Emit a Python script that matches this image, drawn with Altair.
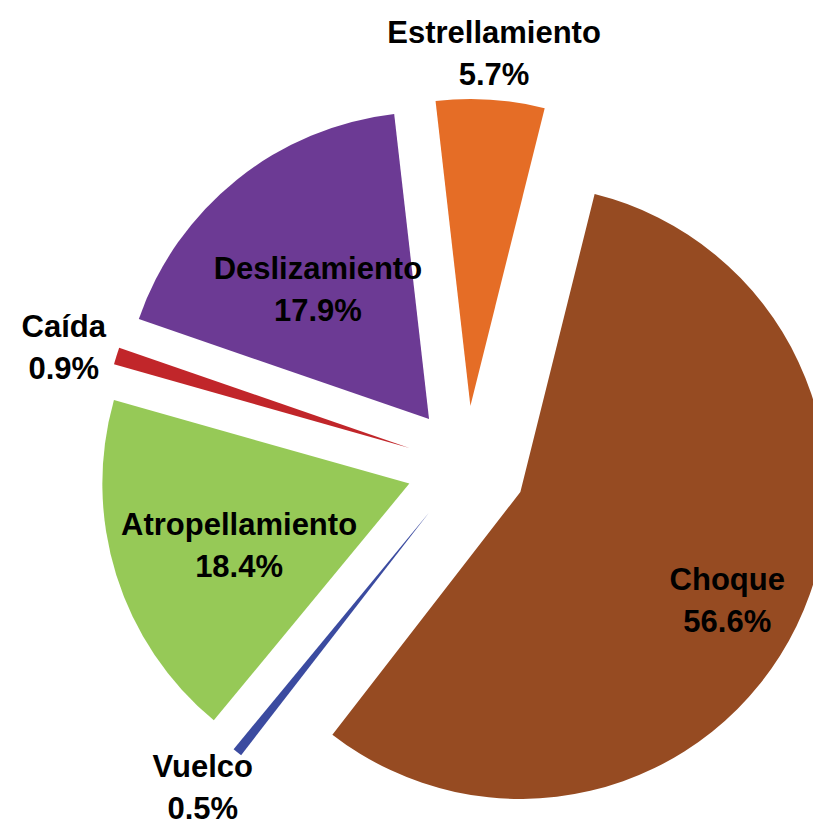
import math
import altair as alt
import pandas as pd

# ---- data ----
categories = ["Choque", "Vuelco", "Atropellamiento", "Caída", "Deslizamiento", "Estrellamiento"]
values = [56.6, 0.5, 18.4, 0.9, 17.9, 5.7]
colors = ["#964B22", "#3B4BA0", "#96C957", "#C1262A", "#6C3A94", "#E56D26"]

# ---- style ----
START = math.radians(14)      # first slice angle
EXPLODE = 0.195               # explode distance as a fraction of the radius
RADIUS = 307
W, H = 805, 821
CX, CY = 458.5, 457.8
LABEL_MAX_Y = 1.02            # keep two-line labels inside the chart area

df = pd.DataFrame({"cat": categories, "value": values, "order": list(range(len(values)))})

base = (
    alt.Chart(df)
    .transform_window(cum="sum(value)", sort=[alt.SortField("order")], frame=[None, 0])
    .transform_joinaggregate(total="sum(value)")
    .transform_calculate(
        c0="100 * (datum.cum - datum.value) / datum.total",
        c1="100 * datum.cum / datum.total",
    )
    .transform_calculate(
        mid=f"{START} + 2 * PI * (datum.c0 + datum.c1) / 200",
    )
    .transform_calculate(
        ex=f"{EXPLODE} * sin(datum.mid)",
        ey=f"-{EXPLODE} * cos(datum.mid)",
        lr="datum.value >= 10 ? 0.5 + 0.44 * datum.value / 100 : 1.18",
        label="datum.cat + '\\n' + format(datum.value, '.1f') + '%'",
    )
    .transform_calculate(
        lx="datum.ex + datum.lr * sin(datum.mid)",
        ly=f"min({LABEL_MAX_Y}, datum.ey - datum.lr * cos(datum.mid))",
    )
)

xscale = alt.Scale(domain=[-1, 1], range=[CX - RADIUS, CX + RADIUS])
yscale = alt.Scale(domain=[-1, 1], range=[CY - RADIUS, CY + RADIUS])
tscale = alt.Scale(domain=[0, 100], range=[START, START + 2 * math.pi])

arcs = base.mark_arc(outerRadius=RADIUS, stroke=None).encode(
    x=alt.X("ex:Q", scale=xscale, axis=None),
    y=alt.Y("ey:Q", scale=yscale, axis=None),
    theta=alt.Theta("c0:Q", scale=tscale),
    theta2="c1:Q",
    color=alt.Color("cat:N", scale=alt.Scale(domain=categories, range=colors), legend=None),
)

labels = base.mark_text(
    font="Liberation Sans", fontWeight="bold", fontSize=31, lineBreak="\n",
    lineHeight=42, align="center", baseline="middle", color="#000000", dy=-11,
).encode(
    x=alt.X("lx:Q", scale=xscale, axis=None),
    y=alt.Y("ly:Q", scale=yscale, axis=None),
    text="label:N",
)

chart = (
    alt.layer(arcs, labels)
    .properties(width=W, height=H, autosize=alt.AutoSizeParams(type="none"), padding=0)
    .configure_view(stroke=None)
)

chart.save("out.html", embed_options={"renderer": "svg", "actions": False})
